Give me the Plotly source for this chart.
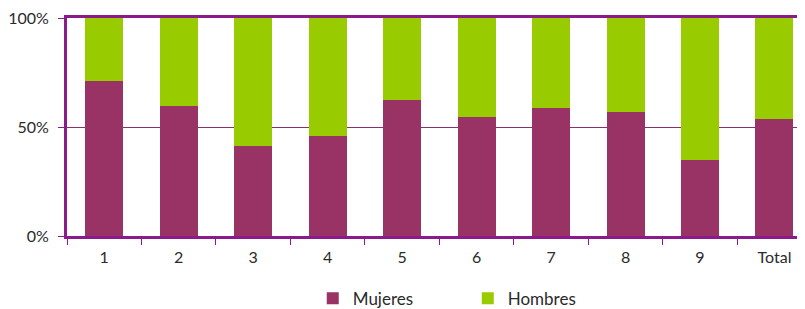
import plotly.graph_objects as go

categories = ["1", "2", "3", "4", "5", "6", "7", "8", "9", "Total"]
mujeres = [71.1, 59.6, 41.3, 45.9, 62.4, 54.6, 58.7, 56.9, 34.9, 53.7]
hombres = [100 - v for v in mujeres]

font_family = "Lato, 'DejaVu Sans', sans-serif"

fig = go.Figure()
fig.add_trace(go.Bar(x=categories, y=mujeres, name="Mujeres",
                     marker=dict(color="#993366", line=dict(width=0))))
fig.add_trace(go.Bar(x=categories, y=hombres, name="Hombres",
                     marker=dict(color="#99CC00", line=dict(width=0))))

# page body has an 8px default margin, so the figure is shrunk by 8px
fig.update_layout(
    barmode="stack",
    bargap=0.49,
    width=797, height=301,
    margin=dict(l=59, r=0, t=10, b=73, autoexpand=False),
    plot_bgcolor="white", paper_bgcolor="white",
    font=dict(family=font_family, size=16, color="#2a2a2a"),
    showlegend=True,
    legend=dict(orientation="h", traceorder="normal",
                x=0.333, xanchor="left", y=-0.205, yanchor="top",
                entrywidth=110, font=dict(size=17, color="#2a2a2a"),
                itemwidth=30),
)
fig.update_xaxes(
    type="category", automargin=False,
    range=[-0.5, 9.41],
    showline=True, linecolor="#8B1A8B", linewidth=3, mirror=True,
    ticks="outside", tickson="boundaries", ticklen=6, tickcolor="#8B1A8B", tickwidth=1,
    ticklabelstandoff=5, ticklabeloverflow="allow",
    showgrid=False,
)
fig.update_yaxes(
    automargin=False,
    range=[0, 100],
    tickvals=[0, 50, 100], ticktext=["0%", "50%", "100%"],
    showline=True, linecolor="#8B1A8B", linewidth=3,
    ticks="outside", ticklen=6, tickcolor="#8B1A8B", tickwidth=1,
    ticklabelstandoff=6, ticklabeloverflow="allow",
    showgrid=True, gridcolor="#8B2F6B", gridwidth=1,
    zeroline=False,
)

fig.write_html("out.html")
